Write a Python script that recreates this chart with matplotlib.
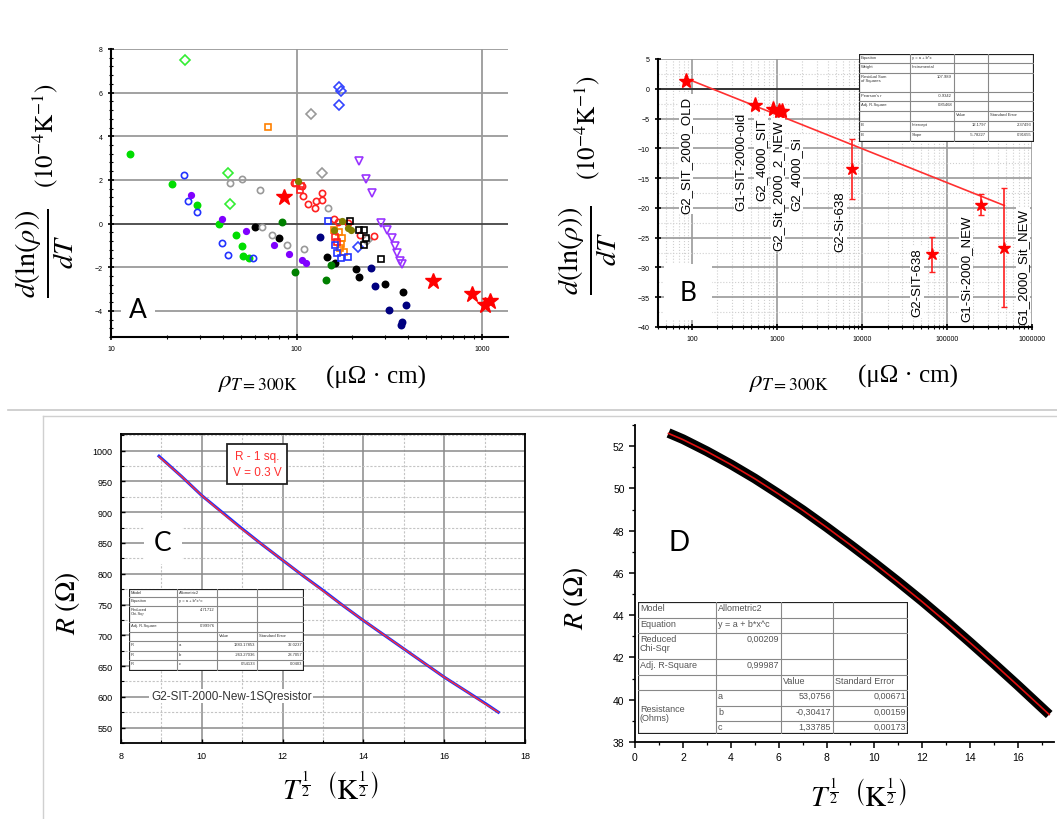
import matplotlib
matplotlib.use("Agg")
import matplotlib.pyplot as plt
from matplotlib.lines import Line2D
from matplotlib.patches import Rectangle
from matplotlib.ticker import MultipleLocator, LogLocator, NullFormatter, FuncFormatter

W, H = 1057, 820

# ---------------- panel A : d(ln rho)/dT vs rho(300K), many sample groups
a_green_x = [12.6, 21.4, 29.2, 38.3, 46.9, 50.7, 51.2, 55.7]
a_green_y = [3.18, 1.82, 0.86, 0.0, -0.53, -1.02, -1.48, -1.6]
a_green_dia_x = [24.9, 42.7, 43.9]
a_green_dia_y = [7.5, 2.32, 0.91]
a_blue_circ_x = [24.7, 25.9, 28.9, 39.9, 42.6, 58.6]
a_blue_circ_y = [2.23, 1.02, 0.55, -0.88, -1.44, -1.6]
a_purple_x = [26.9, 39.9, 53.5, 75.2, 91.6, 106.9, 112.3]
a_purple_y = [1.33, 0.2, -0.33, -0.98, -1.38, -1.67, -1.79]
a_black_x = [59.9, 80.0, 145.8, 162.0, 209.7, 217.8, 300.7, 373.0]
a_black_y = [-0.18, -0.65, -1.55, -1.8, -2.08, -2.44, -2.76, -3.15]
a_dkgreen_x = [84.0, 98.4, 144.5, 152.5]
a_dkgreen_y = [0.08, -2.23, -2.58, -1.92]
a_navy_x = [134.0, 251.0, 264.7, 315.0, 390.7, 370.0, 367.0]
a_navy_y = [-0.6, -2.02, -2.85, -3.94, -3.74, -4.5, -4.67]
a_gray_circ_x = [43.7, 50.7, 63.7, 65.0, 73.6, 89.3, 109.9, 147.6]
a_gray_circ_y = [1.86, 2.02, 1.52, -0.15, -0.53, -0.98, -1.17, 0.73]
a_gray_dia_x = [119.4, 137.4, 240.0]
a_gray_dia_y = [5.03, 2.32, -0.75]
a_orange_x = [69.8, 160.0, 168.6, 175.8, 173.5, 170.6, 179.5]
a_orange_y = [4.42, -0.3, -0.41, -0.65, -0.95, -1.14, -1.32]
a_red_circ_x = [96.4, 107.0, 109.0, 116.0, 126.0, 127.6, 137.0, 138.0, 159.6, 166.4, 190.6, 220.0, 262.0]
a_red_circ_y = [1.85, 1.74, 1.24, 0.91, 0.71, 1.03, 1.39, 1.09, 0.2, 0.05, 0.03, -0.53, -0.58]
a_red_sq_x = [99.6, 105.4, 103.8, 161.7, 165.0]
a_red_sq_y = [1.85, 1.74, 1.56, -0.61, -0.83]
a_blue_sq_x = [147.6, 160.3, 165.0, 173.5, 190.5]
a_blue_sq_y = [0.1, -0.98, -1.36, -1.56, -1.52]
a_blue_dia_x = [168.6, 173.5, 168.6, 214.0]
a_blue_dia_y = [6.26, 6.06, 5.45, -1.06]
a_black_sq_x = [195.0, 216.0, 229.8, 236.5, 229.8, 286.7]
a_black_sq_y = [0.1, -0.3, -0.3, -0.65, -0.98, -1.62]
a_olive_x = [101.6, 158.5, 175.8, 188.4, 196.4]
a_olive_y = [1.94, -0.3, 0.1, -0.2, -0.29]
a_violet_tri_x = [216.0, 236.5, 254.7, 286.7, 307.6, 326.8, 337.8, 347.6, 362.4, 369.7]
a_violet_tri_y = [2.85, 2.05, 1.41, 0.03, -0.3, -0.68, -1.03, -1.36, -1.71, -1.85]
a_star_x = [86.0, 542.0, 879.0, 1042.0, 1109.0]
a_star_y = [1.21, -2.65, -3.21, -3.74, -3.53]

# ---------------- panel B : red star samples with error bars and linear fit
b_star_x = [86.0, 551.0, 906.0, 1060.0, 1155.0, 7600.0, 66000.0, 250000.0, 473000.0]
b_star_y = [1.3, -2.7, -3.4, -3.8, -3.67, -13.5, -27.8, -19.5, -26.7]
b_star_err = [0.0, 0.0, 0.0, 0.0, 0.0, 5.0, 2.9, 1.75, 10.0]
b_fit_x = [87.0, 473000.0]
b_fit_y = [1.7, -19.6]
b_names = ["G2_SIT_2000_OLD", "G1-SIT-2000-old", "G2_4000_SIT", "G2_Sit_2000_2_NEW",
           "G2_4000_Si", "G2-Si-638", "G2-SIT-638", "G1-Si-2000_NEW", "G1_2000_Sit_NEW"]
b_table = [
    ["Equation", "y = a + b*x", "", ""],
    ["Weight", "Instrumental", "", ""],
    ["Residual Sum\nof Squares", "107.989", "", ""],
    ["Pearson's r", "-0.9342", "", ""],
    ["Adj. R-Square", "0.85468", "", ""],
    ["", "", "Value", "Standard Error"],
    ["B", "Intercept", "12.1797", "2.37493"],
    ["B", "Slope", "-5.78227", "0.91655"],
]

# ---------------- panel C : R vs T^1/2, 1 sq resistor
c_x = [8.94, 9.5, 10.0, 10.5, 11.0, 11.5, 12.0, 12.5, 13.0, 13.5, 14.0, 14.5, 15.0, 15.5, 16.0, 16.5, 17.0, 17.34]
c_r = [991, 958, 927, 900, 873, 847, 822, 797, 773, 748, 724, 701, 678, 655, 632, 611, 590, 575]
c_fit = [990, 958, 927, 899, 872, 847, 822, 797, 772, 748, 724, 701, 678, 655, 632, 611, 589, 575]
c_table = [
    ["Model", "Allometric2", "", ""],
    ["Equation", "y = a + b*x^c", "", ""],
    ["Reduced\nChi-Sqr", "4.71712", "", ""],
    ["Adj. R-Square", "0.99976", "", ""],
    ["", "", "Value", "Standard Error"],
    ["R", "a", "1383.17853", "32.0237"],
    ["R", "b", "-263.27036", "28.7057"],
    ["R", "c", "0.54133", "0.0403"],
]

# ---------------- panel D : R vs T^1/2, Allometric2 fit
d_x = [1.4, 2, 3, 4, 5, 6, 7, 8, 9, 10, 11, 12, 13, 14, 15, 16, 17.3]
d_r = [52.62, 52.33, 51.76, 51.14, 50.47, 49.74, 48.98, 48.17, 47.33, 46.47, 45.58, 44.66, 43.70, 42.71, 41.70, 40.67, 39.30]
d_fit = [52.60, 52.31, 51.75, 51.13, 50.46, 49.73, 48.97, 48.16, 47.32, 46.45, 45.55, 44.63, 43.67, 42.69, 41.69, 40.66, 39.30]
d_table = [
    ["Model", "Allometric2", "", ""],
    ["Equation", "y = a + b*x^c", "", ""],
    ["Reduced\nChi-Sqr", "0,00209", "", ""],
    ["Adj. R-Square", "0,99987", "", ""],
    ["", "", "Value", "Standard Error"],
    ["Resistance\n(Ohms)", "a", "53,0756", "0,00671"],
    ["", "b", "-0,30417", "0,00159"],
    ["", "c", "1,33785", "0,00173"],
]

plt.rcParams["font.family"] = ["Liberation Sans", "DejaVu Sans"]
plt.rcParams["mathtext.fontset"] = "stix"


def px_axes(fig, x0, y0, x1, y1, **kw):
    """Axes placed by pixel box (y measured from the top)."""
    return fig.add_axes([x0 / W, 1 - y1 / H, (x1 - x0) / W, (y1 - y0) / H], **kw)


def fig_text(fig, x, y, s, **kw):
    kw.setdefault("ha", "center")
    kw.setdefault("va", "center")
    return fig.text(x / W, 1 - y / H, s, **kw)


def fig_line(fig, xs, ys, **kw):
    fig.add_artist(Line2D([x / W for x in xs], [1 - y / H for y in ys],
                          transform=fig.transFigure, **kw))


def is_number(s):
    s = s.replace(",", ".").replace("-", "", 1)
    try:
        float(s)
        return True
    except ValueError:
        return False


def draw_table(fig, cols, rows, cells, fontsize, color, merge_first=()):
    ax = px_axes(fig, cols[0], rows[0], cols[-1], rows[-1], zorder=10)
    ax.set_xlim(cols[0], cols[-1])
    ax.set_ylim(rows[-1], rows[0])
    ax.set_axis_off()
    ax.add_patch(Rectangle((cols[0], rows[0]), cols[-1] - cols[0], rows[-1] - rows[0],
                           facecolor="white", edgecolor="none"))
    for c in cols[1:-1]:
        ax.plot([c, c], [rows[0], rows[-1]], color="#888888", lw=0.8)
    for i, r in enumerate(rows[1:-1], start=1):
        x0 = cols[1] if i in merge_first else cols[0]
        ax.plot([x0, cols[-1]], [r, r], color="#888888", lw=0.8)
    ax.add_patch(Rectangle((cols[0], rows[0]), cols[-1] - cols[0], rows[-1] - rows[0],
                           facecolor="none", edgecolor="#222222", lw=1.6))
    for i, row in enumerate(cells):
        for j, s in enumerate(row):
            if not s:
                continue
            y = rows[i] + 1
            if j == 0 and (i + 1) in merge_first:
                # label of a merged block, centred over three rows
                y = (rows[i] + rows[i + 3]) / 2 - fontsize * 1.3
            if is_number(s):
                ax.text(cols[j + 1] - 2, y, s, ha="right", va="top", fontsize=fontsize, color=color)
            else:
                ax.text(cols[j] + 2, y, s, ha="left", va="top", fontsize=fontsize, color=color,
                        linespacing=1.0)


fig = plt.figure(figsize=(W / 100, H / 100), dpi=100)

# frame lines of the composite picture
fig_line(fig, [8, W], [411, 411], color="#c8c8c8", lw=1.2)
fig_line(fig, [43, W], [417, 417], color="#d0d0d0", lw=1.0)
fig_line(fig, [43, 43], [417, H], color="#d0d0d0", lw=1.0)

# ======================= A
ax = px_axes(fig, 111, 50, 508, 338)
ax.set_xscale("log")
ax.set_xlim(10, 1380)
ax.set_ylim(-5.2, 8)
for v in [-4, -2, 2, 4, 6, 8]:
    ax.axhline(v, color="#9a9a9a", lw=1.3, zorder=0)
for v in [100, 1000]:
    ax.axvline(v, color="#9a9a9a", lw=1.3, zorder=0)
ax.axhline(0, color="#444444", lw=1.3, zorder=0)

groups_a = [
    (a_green_x, a_green_y, "o", "#00dd00", True, 4.5),
    (a_green_dia_x, a_green_dia_y, "D", "#33ee33", False, 5),
    (a_blue_circ_x, a_blue_circ_y, "o", "#2233ff", False, 4.5),
    (a_purple_x, a_purple_y, "o", "#8000ff", True, 4),
    (a_black_x, a_black_y, "o", "#000000", True, 4.5),
    (a_dkgreen_x, a_dkgreen_y, "o", "#008000", True, 4.5),
    (a_navy_x, a_navy_y, "o", "#000080", True, 4.5),
    (a_gray_circ_x, a_gray_circ_y, "o", "#999999", False, 4.5),
    (a_gray_dia_x, a_gray_dia_y, "D", "#999999", False, 5),
    (a_orange_x, a_orange_y, "s", "#ff8000", False, 3.8),
    (a_red_circ_x, a_red_circ_y, "o", "#ff2020", False, 4.5),
    (a_red_sq_x, a_red_sq_y, "s", "#ff2020", False, 3.8),
    (a_blue_sq_x, a_blue_sq_y, "s", "#2233ff", False, 3.8),
    (a_blue_dia_x, a_blue_dia_y, "D", "#3344ff", False, 5),
    (a_black_sq_x, a_black_sq_y, "s", "#000000", False, 3.8),
    (a_olive_x, a_olive_y, "o", "#808000", True, 4),
    (a_violet_tri_x, a_violet_tri_y, "v", "#9933ff", False, 6),
]
for xs, ys, m, col, filled, ms in groups_a:
    ax.plot(xs, ys, ls="none", marker=m, ms=ms, mec=col, mew=1.2,
            mfc=col if filled else "none")
ax.plot(a_star_x, a_star_y, ls="none", marker="*", ms=12, color="#ff0000")

ax.spines[["top", "right"]].set_visible(False)
ax.spines[["left", "bottom"]].set_linewidth(1.5)
ax.yaxis.set_major_locator(MultipleLocator(2))
ax.yaxis.set_minor_locator(MultipleLocator(0.4))
ax.xaxis.set_major_locator(LogLocator(10))
ax.xaxis.set_minor_locator(LogLocator(10, subs=range(2, 10)))
ax.xaxis.set_minor_formatter(NullFormatter())
ax.xaxis.set_major_formatter(FuncFormatter(lambda v, p: f"{v:.0f}"))
ax.tick_params(which="major", direction="inout", length=5, width=1.2, labelsize=5)
ax.tick_params(which="minor", direction="inout", length=3, width=0.8)
ax.text(0.068, 0.097, "A", transform=ax.transAxes, fontsize=19, family="Lato",
        ha="center", va="center", bbox=dict(facecolor="white", edgecolor="none", pad=6))

fig_text(fig, 45, 253, r"$\frac{d(\ln(\rho))}{dT}$", rotation=90, fontsize=29)
fig_text(fig, 45, 136, r"$\left(10^{-4}\mathrm{K}^{-1}\right)$", rotation=90, fontsize=18)
fig_text(fig, 258, 382, r"$\rho_{T=300\mathrm{K}}$", fontsize=18)
fig_text(fig, 376, 377, "(μΩ · cm)", family="Liberation Serif", fontsize=18)

# ======================= B
ax = px_axes(fig, 658, 60, 1032, 328)
ax.set_xscale("log")
ax.set_xlim(40, 1e6)
ax.set_ylim(-40, 5)
ax.yaxis.set_major_locator(MultipleLocator(5))
ax.yaxis.set_minor_locator(MultipleLocator(2.5))
ax.xaxis.set_major_locator(LogLocator(10))
ax.xaxis.set_minor_locator(LogLocator(10, subs=range(2, 10)))
ax.xaxis.set_minor_formatter(NullFormatter())
ax.xaxis.set_major_formatter(FuncFormatter(lambda v, p: f"{v:.0f}"))
ax.grid(True, which="major", color="#9a9a9a", lw=1.2, zorder=0)
ax.grid(True, which="minor", color="#cfcfcf", lw=0.8, ls=":", zorder=0)
ax.axhline(0, color="#222222", lw=1.2, zorder=1)
ax.set_axisbelow(True)
ax.spines[["top", "right"]].set_visible(False)
ax.spines[["left", "bottom"]].set_linewidth(1.5)
ax.tick_params(which="major", direction="inout", length=5, width=1.2, labelsize=5)
ax.tick_params(which="minor", direction="inout", length=3, width=0.8)
ax.tick_params(axis="y", which="minor", length=0)

ax.plot(b_fit_x, b_fit_y, color="#ff3030", lw=1.2, zorder=3)
err_pts = [i for i, e in enumerate(b_star_err) if e > 0]
ax.errorbar([b_star_x[i] for i in err_pts], [b_star_y[i] for i in err_pts],
            yerr=[b_star_err[i] for i in err_pts], fmt="none", ecolor="#ff2020",
            elinewidth=1.2, capsize=2.5, zorder=4)
ax.plot(b_star_x[:5], b_star_y[:5], ls="none", marker="*", ms=11, color="#ff0000", zorder=5)
ax.plot(b_star_x[5:], b_star_y[5:], ls="none", marker="*", ms=9, color="#ff0000", zorder=5)
ax.text(0.08, 0.13, "B", transform=ax.transAxes, fontsize=19, family="Lato",
        ha="center", va="center", bbox=dict(facecolor="white", edgecolor="none", pad=11))

b_label_px = [(686, 155), (741, 162), (761, 160), (778, 186), (796, 174),
              (840, 222), (917, 283), (966, 269), (1023, 267)]
for name, (x, y) in zip(b_names, b_label_px):
    fig_text(fig, x, y, name, rotation=90, fontsize=9.5, zorder=6,
             bbox=dict(facecolor="white", edgecolor="none", pad=1))

draw_table(fig, [859, 910, 954, 988, 1034], [55, 64, 74, 93, 102, 112, 122, 132, 143],
           b_table, 3, "#333333")

fig_text(fig, 588, 250, r"$\frac{d(\ln(\rho))}{dT}$", rotation=90, fontsize=29)
fig_text(fig, 587, 128, r"$\left(10^{-4}\mathrm{K}^{-1}\right)$", rotation=90, fontsize=18)
fig_text(fig, 789, 382, r"$\rho_{T=300\mathrm{K}}$", fontsize=18)
fig_text(fig, 908, 376, "(μΩ · cm)", family="Liberation Serif", fontsize=18)

# ======================= C
ax = px_axes(fig, 121, 435, 525, 744)
ax.set_xlim(8, 18)
ax.set_ylim(525, 1027)
ax.xaxis.set_major_locator(MultipleLocator(2))
ax.xaxis.set_minor_locator(MultipleLocator(1))
ax.yaxis.set_major_locator(MultipleLocator(50))
ax.yaxis.set_minor_locator(MultipleLocator(25))
ax.grid(True, which="major", color="#8a8a8a", lw=1.1)
ax.grid(True, which="minor", color="#c4c4c4", lw=0.8, ls=(0, (2, 1.5)))
ax.set_axisbelow(True)
for s in ax.spines.values():
    s.set_linewidth(1.3)
ax.tick_params(which="major", direction="in", length=3, width=1, labelsize=6.5, pad=6)
ax.tick_params(which="minor", direction="in", length=2, width=0.8)
ax.plot(c_x, c_r, color="#2030ff", lw=2.2)
ax.plot(c_x, c_fit, color="#ff3030", lw=1.0)
ax.text(0.337, 0.903, "R - 1 sq.\nV = 0.3 V", transform=ax.transAxes, color="#ff3030",
        fontsize=8.5, ha="center", va="center", linespacing=1.5,
        bbox=dict(facecolor="white", edgecolor="#222222", lw=1.3, pad=4))
ax.text(0.104, 0.65, "C", transform=ax.transAxes, fontsize=19, family="Lato",
        ha="center", va="center", bbox=dict(facecolor="white", edgecolor="none", pad=7))
ax.text(0.074, 0.152, "G2-SIT-2000-New-1SQresistor", transform=ax.transAxes,
        fontsize=8.5, color="#333333", ha="left", va="center",
        bbox=dict(facecolor="white", edgecolor="none", pad=1))

draw_table(fig, [129, 177, 217, 257, 304], [590, 598, 607, 623, 633, 642, 652, 661, 672],
           c_table, 3, "#333333")

fig_text(fig, 68, 603, r"$R\ \left(\Omega\right)$", rotation=90, fontsize=20)
fig_text(fig, 330, 790, r"$T^{\frac{1}{2}}\ \ \left(\mathrm{K}^{\frac{1}{2}}\right)$", fontsize=21)

# ======================= D
ax = px_axes(fig, 635, 426, 1054, 743)
ax.set_xlim(0, 17.5)
ax.set_ylim(38, 53)
ax.xaxis.set_major_locator(MultipleLocator(2))
ax.xaxis.set_minor_locator(MultipleLocator(1))
ax.yaxis.set_major_locator(MultipleLocator(2))
ax.yaxis.set_minor_locator(MultipleLocator(1))
ax.spines[["top", "right"]].set_visible(False)
ax.spines[["left", "bottom"]].set_linewidth(1.3)
ax.tick_params(which="major", direction="out", length=4, width=1.1, labelsize=7.5)
ax.tick_params(which="minor", direction="out", length=2.5, width=0.9)
ax.plot(d_x, d_r, color="#000000", lw=7, solid_capstyle="butt")
ax.plot(d_x, d_fit, color="#e01010", lw=1.2)
ax.text(0.105, 0.63, "D", transform=ax.transAxes, fontsize=20, family="Lato",
        ha="center", va="center")

draw_table(fig, [638, 716, 781, 833, 908], [603, 619, 634, 660, 676, 691, 707, 722, 735],
           d_table, 6.5, "#555555", merge_first=(6, 7))

fig_text(fig, 575, 598, r"$R\ \left(\Omega\right)$", rotation=90, fontsize=20)
fig_text(fig, 858, 797, r"$T^{\frac{1}{2}}\ \ \left(\mathrm{K}^{\frac{1}{2}}\right)$", fontsize=21)

fig.savefig("out.png", dpi=100)
